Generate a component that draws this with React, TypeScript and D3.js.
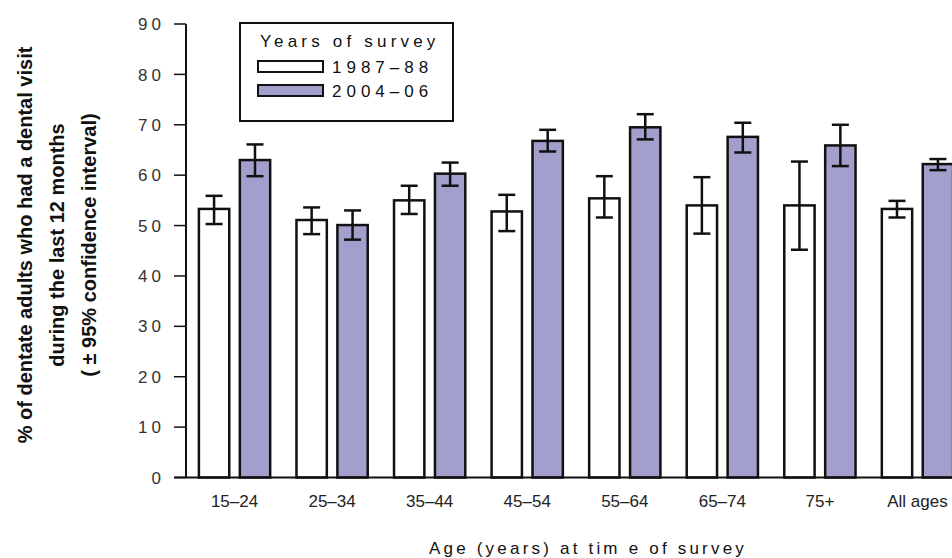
import { useEffect, useRef } from 'react';
import * as d3 from 'd3';

const categories = ['15–24', '25–34', '35–44', '45–54', '55–64', '65–74', '75+', 'All ages'];
const seriesNames = ['1987–88', '2004–06'];
const seriesColors = ['#ffffff', '#a39fcd'];

// survey 1987-88
const value1987 = [53.3, 51.1, 55.0, 52.8, 55.4, 54.0, 54.0, 53.3];
const low1987 = [50.3, 48.3, 52.3, 48.9, 51.6, 48.4, 45.2, 51.6];
const high1987 = [55.9, 53.6, 57.9, 56.1, 59.8, 59.6, 62.7, 54.9];

// survey 2004-06
const value2004 = [63.0, 50.1, 60.3, 66.8, 69.5, 67.6, 65.9, 62.2];
const low2004 = [59.8, 47.2, 57.9, 64.7, 67.1, 64.5, 61.8, 61.0];
const high2004 = [66.1, 53.0, 62.5, 69.0, 72.1, 70.4, 70.0, 63.2];

const yTicks = [0, 10, 20, 30, 40, 50, 60, 70, 80, 90];

const yTitleLines = [
  '% of dentate adults  who had a dental visit',
  'during  the last 12 months',
  '( ± 95% confidence interval)',
];

export default function App() {
  const svgRef = useRef<SVGSVGElement>(null);

  useEffect(() => {
    if (!svgRef.current) return;
    const svg = d3.select(svgRef.current);
    svg.selectAll('*').remove();

    const width = 952;
    const height = 558;
    const font = '"Liberation Sans", Arial, sans-serif';
    svg.attr('width', width).attr('height', height);

    const x0 = 186;
    const yScale = d3.scaleLinear().domain([0, 90]).range([477.5, 24]);

    const xScale = d3.scaleBand<string>()
      .domain(categories)
      .range([x0, 966])
      .paddingInner(0.245)
      .paddingOuter(0.12);

    const xSub = d3.scaleBand<string>()
      .domain(seriesNames)
      .range([0, xScale.bandwidth()])
      .paddingInner(0.2);

    const rows = categories.map((c, i) => [
      { cat: c, s: seriesNames[0], v: value1987[i], lo: low1987[i], hi: high1987[i], color: seriesColors[0] },
      { cat: c, s: seriesNames[1], v: value2004[i], lo: low2004[i], hi: high2004[i], color: seriesColors[1] },
    ]).flat();

    // bars
    svg.append('g')
      .selectAll('rect')
      .data(rows)
      .enter()
      .append('rect')
      .attr('x', d => (xScale(d.cat) || 0) + (xSub(d.s) || 0) + 1.2)
      .attr('y', d => yScale(d.v))
      .attr('width', xSub.bandwidth() - 2.4)
      .attr('height', d => yScale(0) - yScale(d.v))
      .attr('fill', d => d.color)
      .attr('stroke', '#111')
      .attr('stroke-width', 2.5);

    // error bars
    const eb = svg.append('g').attr('stroke', '#111').attr('stroke-width', 2.5);
    rows.forEach(d => {
      const cx = (xScale(d.cat) || 0) + (xSub(d.s) || 0) + xSub.bandwidth() / 2;
      eb.append('line').attr('x1', cx).attr('x2', cx).attr('y1', yScale(d.lo)).attr('y2', yScale(d.hi));
      eb.append('line').attr('x1', cx - 8.5).attr('x2', cx + 8.5).attr('y1', yScale(d.lo)).attr('y2', yScale(d.lo));
      eb.append('line').attr('x1', cx - 8.5).attr('x2', cx + 8.5).attr('y1', yScale(d.hi)).attr('y2', yScale(d.hi));
    });

    // y axis
    const yAxis = svg.append('g');
    yAxis.append('line')
      .attr('x1', x0).attr('x2', x0)
      .attr('y1', yScale(90)).attr('y2', yScale(0))
      .attr('stroke', '#111').attr('stroke-width', 2);
    yTicks.forEach(t => {
      yAxis.append('line')
        .attr('x1', 174).attr('x2', x0)
        .attr('y1', yScale(t)).attr('y2', yScale(t))
        .attr('stroke', '#111').attr('stroke-width', 1.5);
      yAxis.append('text')
        .attr('x', 165)
        .attr('y', yScale(t))
        .attr('dy', '0.36em')
        .attr('text-anchor', 'end')
        .attr('font-family', font)
        .attr('font-size', '17px')
        .attr('letter-spacing', '4px')
        .attr('fill', '#333')
        .text(String(t));
    });

    // x axis line
    svg.append('line')
      .attr('x1', 174).attr('x2', width)
      .attr('y1', yScale(0)).attr('y2', yScale(0))
      .attr('stroke', '#111').attr('stroke-width', 2);

    // x tick labels
    svg.append('g')
      .selectAll('text')
      .data(categories)
      .enter()
      .append('text')
      .attr('x', d => (xScale(d) || 0) + xScale.bandwidth() / 2)
      .attr('y', 507)
      .attr('text-anchor', 'middle')
      .attr('font-family', font)
      .attr('font-size', '17px')
      .attr('fill', '#222')
      .text(d => d);

    // x title
    svg.append('text')
      .attr('x', 588)
      .attr('y', 554)
      .attr('text-anchor', 'middle')
      .attr('font-family', font)
      .attr('font-size', '17px')
      .attr('letter-spacing', '3.2px')
      .attr('fill', '#111')
      .text('Age (years) at tim e of survey');

    // y title
    yTitleLines.forEach((line, i) => {
      svg.append('text')
        .attr('transform', `translate(${25 + i * 32},245) rotate(-90)`)
        .attr('dy', '0.35em')
        .attr('text-anchor', 'middle')
        .attr('font-family', font)
        .attr('font-size', '20px')
        .attr('font-weight', '700')
        .attr('fill', '#111')
        .text(line);
    });

    // legend
    const lg = svg.append('g');
    lg.append('rect')
      .attr('x', 240).attr('y', 23)
      .attr('width', 213).attr('height', 98)
      .attr('fill', 'white')
      .attr('stroke', '#111').attr('stroke-width', 2);
    lg.append('text')
      .attr('x', 260).attr('y', 47)
      .attr('font-family', font)
      .attr('font-size', '17px')
      .attr('letter-spacing', '4.2px')
      .attr('fill', '#111')
      .text('Years of survey');
    seriesNames.forEach((s, i) => {
      lg.append('rect')
        .attr('x', 258).attr('y', 61 + i * 24)
        .attr('width', 65).attr('height', 11)
        .attr('fill', seriesColors[i])
        .attr('stroke', '#111').attr('stroke-width', 2);
      lg.append('text')
        .attr('x', 332).attr('y', 73 + i * 24)
        .attr('font-family', font)
        .attr('font-size', '17px')
        .attr('letter-spacing', '5px')
        .attr('fill', '#111')
        .text(s);
    });
  }, []);

  return (
    <svg ref={svgRef} style={{ display: 'block', position: 'absolute', left: 0, top: 0, background: 'white' }}></svg>
  );
}
